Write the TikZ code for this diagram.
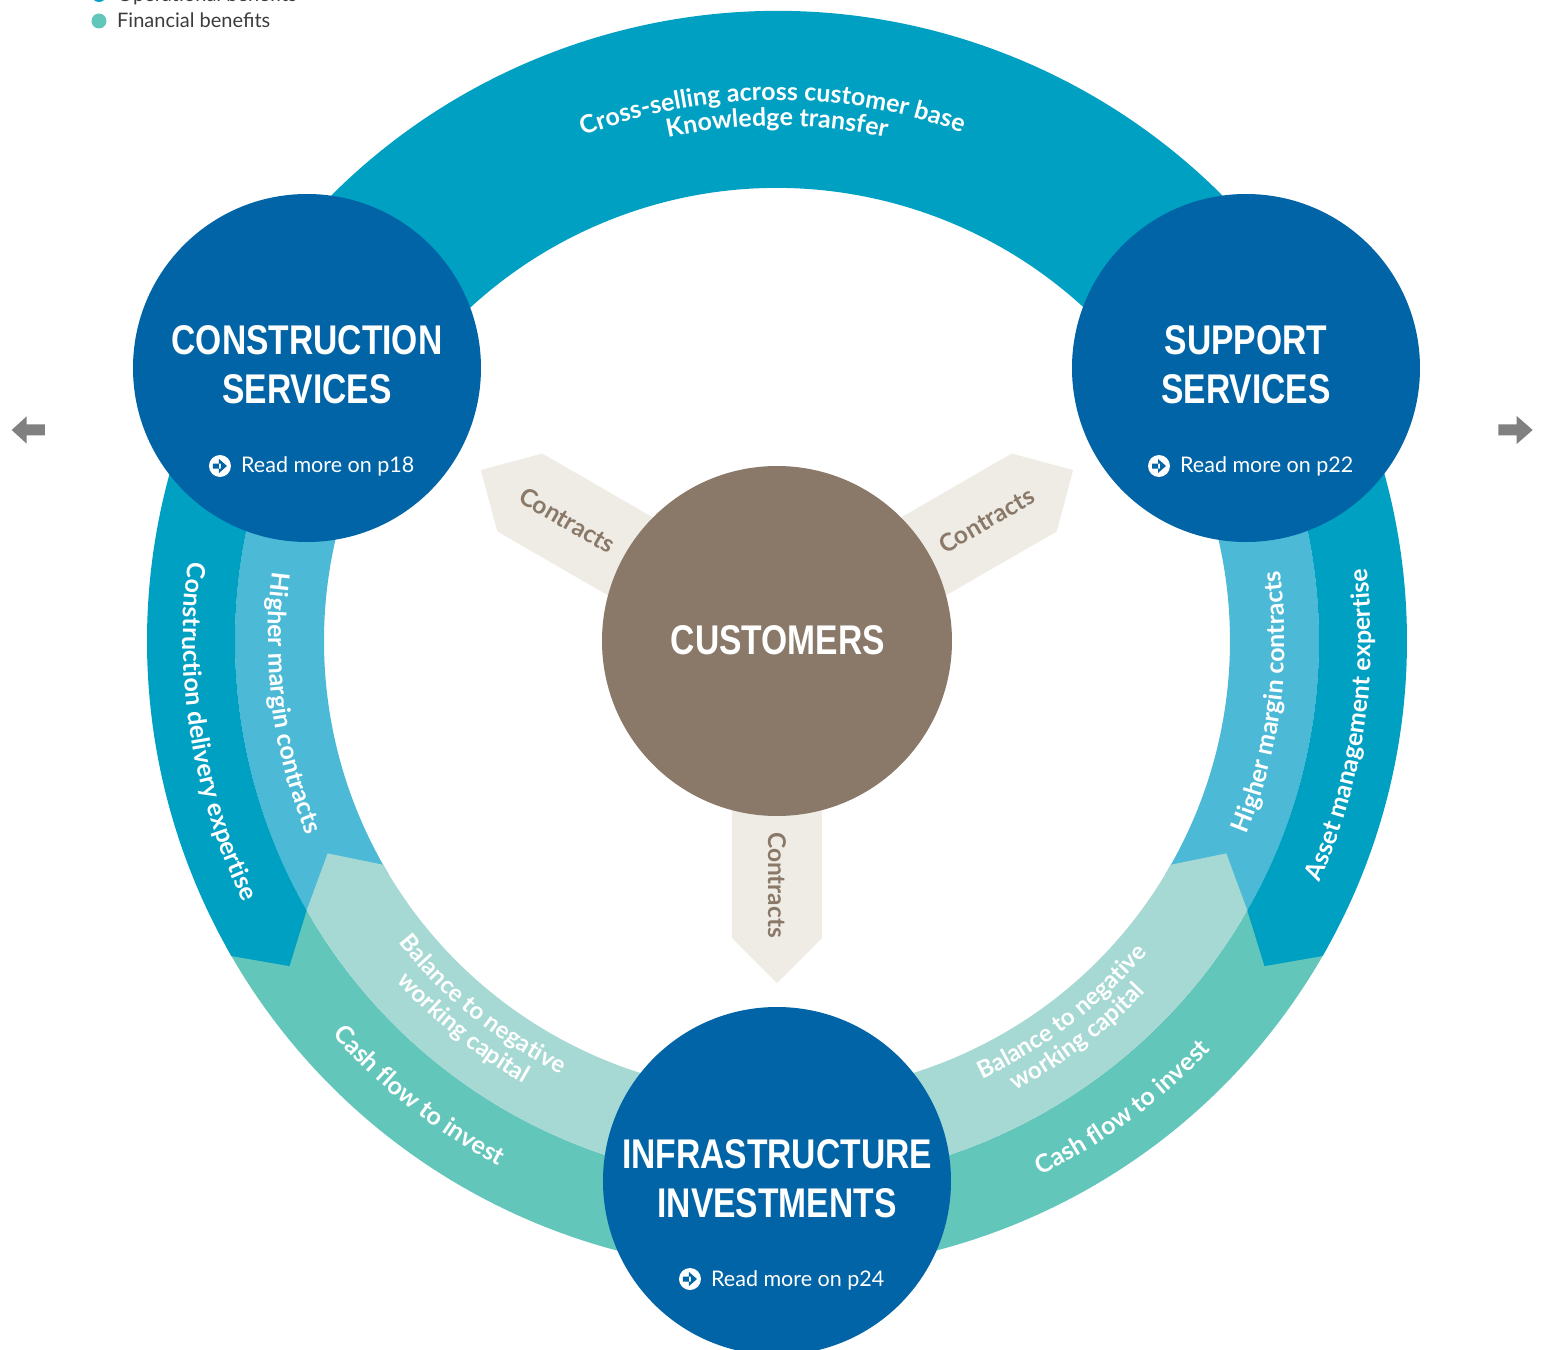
\documentclass[tikz,border=0pt]{standalone}
\usepackage{fontspec}
\setmainfont{Lato}
\newfontfamily\titlefont[FakeStretch=0.81]{Liberation Sans}
\usetikzlibrary{decorations.text}

\definecolor{navy}{RGB}{0,100,166}
\definecolor{opdark}{RGB}{0,160,195}
\definecolor{oplight}{RGB}{76,186,214}
\definecolor{findark}{RGB}{98,198,187}
\definecolor{finlight}{RGB}{166,217,211}
\definecolor{custbrown}{RGB}{138,121,104}
\definecolor{contractbg}{RGB}{239,236,230}
\definecolor{navgrey}{RGB}{128,128,128}
\definecolor{legendgrey}{RGB}{60,60,60}

\tikzset{
  unitcircle/.style={circle, fill=navy, minimum size=348pt, inner sep=0pt},
  unittitle/.style={text=white, font=\titlefont\bfseries\fontsize{41.5}{49}\selectfont, anchor=base, inner sep=0pt},
  readmore/.style={text=white, font=\fontsize{21.5}{26}\selectfont, anchor=base west, inner sep=0pt},
  contractlabel/.style={text=custbrown, font=\bfseries\fontsize{24.5}{28}\selectfont, inner sep=0pt},
  legendlabel/.style={text=legendgrey, font=\fontsize{20}{24}\selectfont, anchor=base west, inner sep=0pt},
  bandtext/.style={decorate, decoration={text along path, text align=center, text color=white,
      text={|\bfseries\fontsize{25}{30}\selectfont|#1}}},
  bandsmall/.style={decorate, decoration={text along path, text align=center, text color=white,
      text={|\bfseries\fontsize{24}{28}\selectfont|#1}}},
}

\begin{document}
\begin{tikzpicture}[x=1pt,y=1pt]
\useasboundingbox (-777,-709) rectangle (766,641);

% ring
\fill[opdark] (25:453) arc[start angle=25,end angle=155,radius=453pt] -- (155:630) arc[start angle=155,end angle=25,radius=630pt] -- cycle;
\fill[oplight] (150:453) arc[start angle=150,end angle=211,radius=453pt] -- (211:542) arc[start angle=211,end angle=150,radius=542pt] -- cycle;
\fill[oplight] (30:453) arc[start angle=30,end angle=-31,radius=453pt] -- (-31:542) arc[start angle=-31,end angle=30,radius=542pt] -- cycle;
\fill[findark] (209:542) arc[start angle=209,end angle=331,radius=542pt] -- (331:630) arc[start angle=331,end angle=209,radius=630pt] -- cycle;
\fill[opdark] (150:542) arc[start angle=150,end angle=209.8,radius=542pt] -- (213.7:586) -- (210:630) arc[start angle=210,end angle=150,radius=630pt] -- cycle;
\fill[opdark] (30:542) arc[start angle=30,end angle=-29.8,radius=542pt] -- (-33.7:586) -- (-30:630) arc[start angle=-30,end angle=30,radius=630pt] -- cycle;
\fill[finlight] (209.6:453) -- (205.3:497) -- (209.8:542) arc[start angle=209.8,end angle=330.2,radius=542pt] -- (334.7:497) -- (330.4:453) arc[start angle=330.4,end angle=209.6,radius=453pt] -- cycle;

\path[bandtext={Cross-selling across customer base}] (120.5:541) arc[start angle=120.5,end angle=60.5,radius=541pt];
\path[bandtext={Knowledge transfer}] (120:515) arc[start angle=120,end angle=60,radius=515pt];
\path[bandtext={Construction delivery expertise}] (159.2:594) arc[start angle=159.2,end angle=219.2,radius=594pt];
\path[bandtext={Higher margin contracts}] (157.3:509) arc[start angle=157.3,end angle=217.3,radius=509pt];
\path[bandtext={Higher margin contracts}] (-37.2:508) arc[start angle=-37.2,end angle=22.8,radius=508pt];
\path[bandtext={Asset management expertise}] (-38.5:594) arc[start angle=-38.5,end angle=21.5,radius=594pt];
\path[bandtext={Cash flow to invest}] (201.8:594) arc[start angle=201.8,end angle=261.8,radius=594pt];
\path[bandtext={Cash flow to invest}] (-83.5:596) arc[start angle=-83.5,end angle=-23.5,radius=596pt];
\path[bandsmall={Balance to negative}] (201:484) arc[start angle=201,end angle=261,radius=484pt];
\path[bandsmall={working capital}] (201:510) arc[start angle=201,end angle=261,radius=510pt];
\path[bandsmall={Balance to negative}] (-82.5:484) arc[start angle=-82.5,end angle=-22.5,radius=484pt];
\path[bandsmall={working capital}] (-82.8:509) arc[start angle=-82.8,end angle=-22.8,radius=509pt];

\node[unitcircle] (cs) at (-470,273) {};
\node[unitcircle] (ss) at (469,273) {};
\node[unitcircle] (ii) at (0,-540) {};

\foreach \u/\p/\la/\lb in {cs/18/CONSTRUCTION/SERVICES, ss/22/SUPPORT/SERVICES, ii/24/INFRASTRUCTURE/INVESTMENTS} {
  \begin{scope}[shift={(\u.center)}]
    \node[unittitle] (\u-top) at (0,13) {\la};
    \node[unittitle] (\u-bot) at (0,-36) {\lb};
    \fill[white] (-87,-98) circle[radius=11];
    \fill[navy] (-94,-100.5) rectangle (-86,-95.5) (-88,-105) -- (-80,-98) -- (-88,-91) -- cycle;
    \node[readmore] (\u-more) at (-66,-105) {Read more on p\p};
  \end{scope}
}

% contracts
\foreach \a in {150,30,270}
  \fill[contractbg, rotate=\a] (100,-45) -- (297,-45) -- (342,0) -- (297,45) -- (100,45) -- cycle;
\node[contractlabel, rotate=-30] (con-cs) at (150:242) {Contracts};
\node[contractlabel, rotate=30] (con-ss) at (30:242) {Contracts};
\node[contractlabel, rotate=-90] (con-ii) at (270:244) {Contracts};

\node[circle, fill=custbrown, minimum size=350pt, inner sep=0pt] (cust) at (0,0) {};
\node[unittitle] (cust-title) at (1,-13.5) {CUSTOMERS};

% page arrows
\fill[navgrey] (-765.3,211) -- (-750.3,224.7) -- (-750.3,216.5) -- (-732,216.5) -- (-732,205.5) -- (-750.3,205.5) -- (-750.3,197.3) -- cycle;
\fill[navgrey] (755.7,211) -- (739.7,225) -- (739.7,216.5) -- (721.3,216.5) -- (721.3,205.5) -- (739.7,205.5) -- (739.7,197) -- cycle;

% legend
\fill[opdark] (-678,646.5) circle[radius=7.5];
\node[legendlabel] (leg-op) at (-660,639.2) {Operational benefits};
\fill[findark] (-678,620) circle[radius=7.5];
\node[legendlabel] (leg-fin) at (-660,613.7) {Financial benefits};

\end{tikzpicture}
\end{document}
